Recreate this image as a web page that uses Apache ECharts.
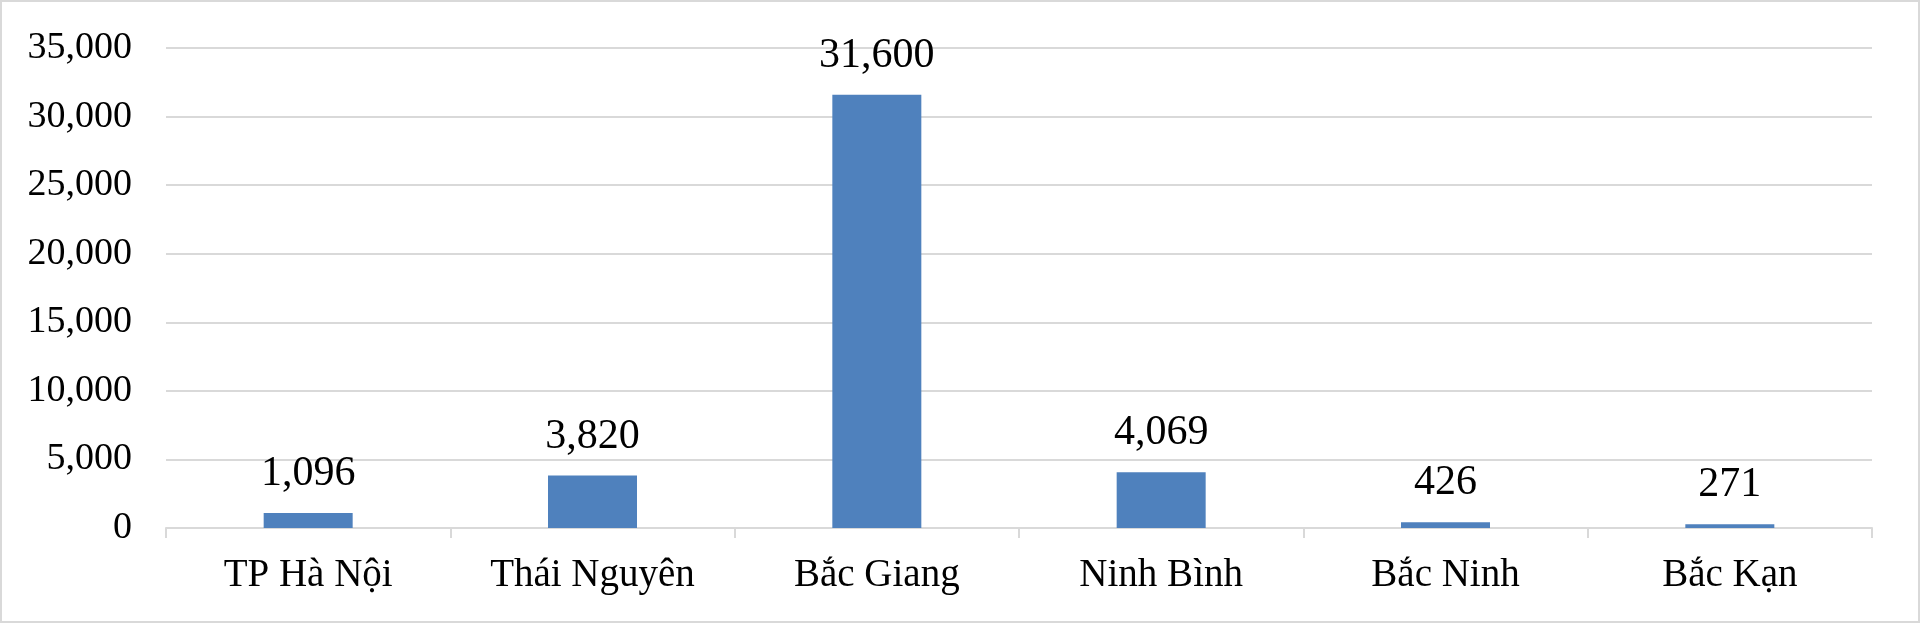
<!DOCTYPE html>
<html>
<head>
<meta charset="utf-8">
<script src="https://cdn.jsdelivr.net/npm/echarts@6/dist/echarts.min.js"></script>
<style>
html,body{margin:0;padding:0;background:#fff;}
#c{width:1920px;height:623px;}
</style>
</head>
<body>
<div id="c"></div>
<script>
const categories = ["TP Hà Nội", "Thái Nguyên", "Bắc Giang", "Ninh Bình", "Bắc Ninh", "Bắc Kạn"];
const values = [1096, 3820, 31600, 4069, 426, 271];
const yTicks = [0, 5000, 10000, 15000, 20000, 25000, 30000, 35000];

const fmt = v => v.toLocaleString('en-US');
const font = '"Liberation Serif", "Times New Roman", serif';

const chart = echarts.init(document.getElementById('c'), null, {renderer: 'canvas'});
chart.setOption({
  animation: false,
  backgroundColor: '#fff',
  graphic: [{
    type: 'rect',
    shape: {x: 1, y: 1, width: 1918, height: 621},
    style: {fill: 'none', stroke: '#d9d9d9', lineWidth: 2},
    silent: true
  }],
  grid: {left: 166, right: 48, top: 48, bottom: 95, containLabel: false},
  xAxis: {
    type: 'category',
    data: categories,
    boundaryGap: true,
    axisLine: {show: true, lineStyle: {color: '#d9d9d9', width: 2}},
    axisTick: {show: true, length: 10, alignWithLabel: false, lineStyle: {color: '#d9d9d9', width: 2}},
    axisLabel: {color: '#000', fontFamily: font, fontSize: 39, margin: 28}
  },
  yAxis: {
    type: 'value',
    min: yTicks[0],
    max: yTicks[yTicks.length - 1],
    interval: yTicks[1] - yTicks[0],
    axisLine: {show: false},
    axisTick: {show: false},
    splitLine: {show: true, lineStyle: {color: '#d9d9d9', width: 2}},
    axisLabel: {color: '#000', fontFamily: font, fontSize: 38, margin: 34, formatter: v => fmt(v)}
  },
  series: [{
    type: 'bar',
    data: values,
    barWidth: '31.3%',
    itemStyle: {color: '#4f81bd'},
    label: {
      show: true,
      position: 'top',
      distance: 18,
      color: '#000',
      fontFamily: font,
      fontSize: 42,
      formatter: p => fmt(p.value)
    }
  }]
});
</script>
</body>
</html>
